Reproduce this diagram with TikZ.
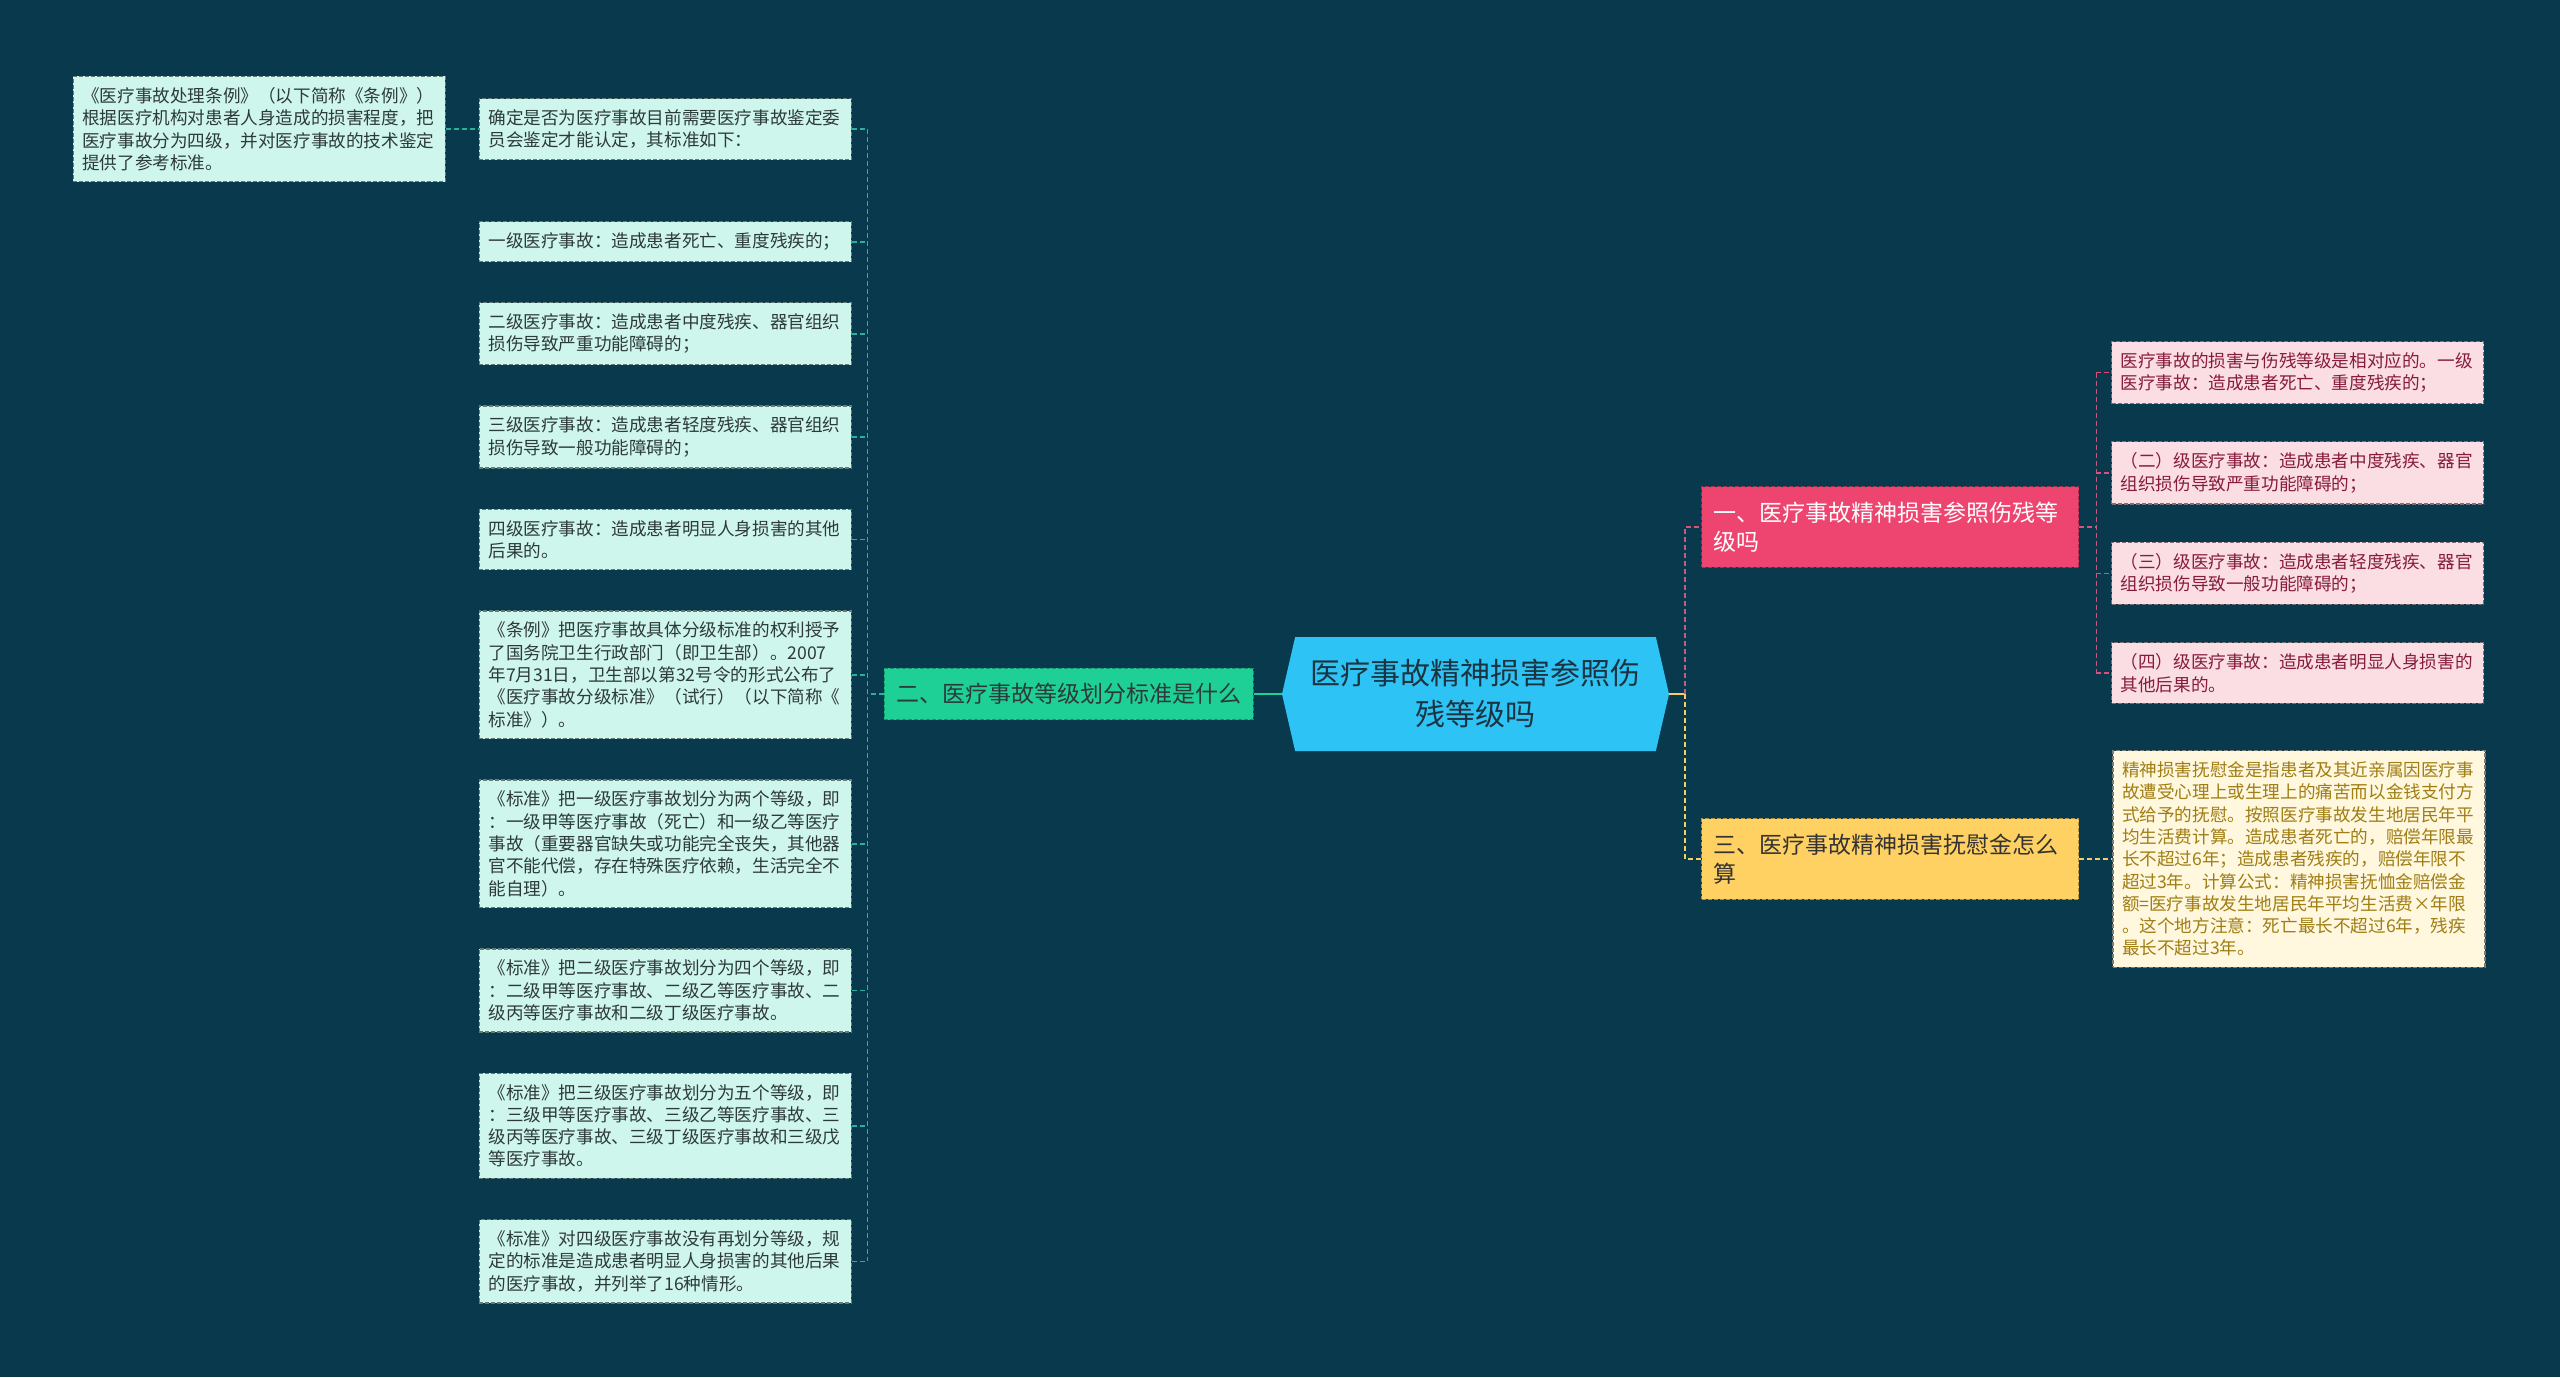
\documentclass[tikz,border=0pt]{standalone}
\usepackage{fontspec}
\setmainfont{Noto Sans CJK SC}
\usetikzlibrary{positioning,calc,shapes.symbols}
\definecolor{bgdeep}{RGB}{8,57,77}
\definecolor{hubcyan}{RGB}{45,196,245}
\definecolor{hubink}{RGB}{28,52,66}
\definecolor{mintbr}{RGB}{30,208,150}
\definecolor{mintleaf}{RGB}{207,246,236}
\definecolor{mintink}{RGB}{45,58,58}
\definecolor{mintline}{RGB}{40,178,156}
\definecolor{rosebr}{RGB}{238,68,112}
\definecolor{roseleaf}{RGB}{251,221,228}
\definecolor{roseink}{RGB}{135,28,58}
\definecolor{roseline}{RGB}{214,82,124}
\definecolor{sandbr}{RGB}{255,209,98}
\definecolor{sandleaf}{RGB}{255,247,222}
\definecolor{sandink}{RGB}{160,126,20}
\definecolor{sandline}{RGB}{246,206,104}

\begin{document}
\begin{tikzpicture}[x=1pt,y=-1pt,
          hub/.style={signal,signal to=west and east,signal pointer angle=154,fill=hubcyan,text=hubink,
                      minimum width=387pt,minimum height=114pt,align=center,font=\fontsize{30}{41}\selectfont},
          brn/.style={fill=#1br,draw=#1br!70!black,dash pattern=on 4pt off 2pt,line width=1.2pt,
                      inner xsep=12pt,inner ysep=15pt,align=left,font=\fontsize{23}{29.5}\selectfont},
          leaf/.style={fill=#1leaf,draw=#1leaf!50!black,text=#1ink,dash pattern=on 4pt off 2pt,line width=1.2pt,
                       text width=354pt,inner xsep=9pt,inner ysep=11pt,align=left,font=\fontsize{17.6}{22.3}\selectfont},
          ln/.style={draw=#1line,line width=1.6pt,dash pattern=on 5pt off 3pt},
          node distance=40pt
        ]
        \useasboundingbox (0,0) rectangle (2560,1377);
        \fill[bgdeep] (0,0) rectangle (2560,1377);
        \node[hub] (ctr) at (1475.5,694) {医疗事故精神损害参照伤\\残等级吗};
        \node[brn=mint,text=mintink,left=28pt of ctr] (two) {二、医疗事故等级划分标准是什么};
        \node[brn=rose,text=white,text width=353pt,anchor=west] (one) at ($(ctr.east)+(32,-167)$) {一、医疗事故精神损害参照伤残等\\级吗};
        \node[brn=sand,text=black!80,text width=353pt,anchor=west] (thr) at ($(ctr.east)+(32,165)$) {三、医疗事故精神损害抚慰金怎么\\算};
        \node[leaf=mint,anchor=north east] (l1) at (852,98) {确定是否为医疗事故目前需要医疗事故鉴定委\\员会鉴定才能认定，其标准如下：};
        \node[leaf=mint,left=33pt of l1] (l0) {《医疗事故处理条例》（以下简称《条例》）\\根据医疗机构对患者人身造成的损害程度，把\\医疗事故分为四级，并对医疗事故的技术鉴定\\提供了参考标准。};
        \node[leaf=mint,below=61pt of l1] (l2) {一级医疗事故：造成患者死亡、重度残疾的；};
        \node[leaf=mint,below=of l2] (l3) {二级医疗事故：造成患者中度残疾、器官组织\\损伤导致严重功能障碍的；};
        \node[leaf=mint,below=of l3] (l4) {三级医疗事故：造成患者轻度残疾、器官组织\\损伤导致一般功能障碍的；};
        \node[leaf=mint,below=of l4] (l5) {四级医疗事故：造成患者明显人身损害的其他\\后果的。};
        \node[leaf=mint,below=of l5] (l6) {《条例》把医疗事故具体分级标准的权利授予\\了国务院卫生行政部门（即卫生部）。2007\\年7月31日，卫生部以第32号令的形式公布了\\《医疗事故分级标准》（试行）（以下简称《\\标准》）。};
        \node[leaf=mint,below=of l6] (l7) {《标准》把一级医疗事故划分为两个等级，即\\：一级甲等医疗事故（死亡）和一级乙等医疗\\事故（重要器官缺失或功能完全丧失，其他器\\官不能代偿，存在特殊医疗依赖，生活完全不\\能自理）。};
        \node[leaf=mint,below=of l7] (l8) {《标准》把二级医疗事故划分为四个等级，即\\：二级甲等医疗事故、二级乙等医疗事故、二\\级丙等医疗事故和二级丁级医疗事故。};
        \node[leaf=mint,below=of l8] (l9) {《标准》把三级医疗事故划分为五个等级，即\\：三级甲等医疗事故、三级乙等医疗事故、三\\级丙等医疗事故、三级丁级医疗事故和三级戊\\等医疗事故。};
        \node[leaf=mint,below=of l9] (l10) {《标准》对四级医疗事故没有再划分等级，规\\定的标准是造成患者明显人身损害的其他后果\\的医疗事故，并列举了16种情形。};
        \node[leaf=rose,anchor=north west] (r1) at (2111,341) {医疗事故的损害与伤残等级是相对应的。一级\\医疗事故：造成患者死亡、重度残疾的；};
        \node[leaf=rose,below=37pt of r1] (r2) {（二）级医疗事故：造成患者中度残疾、器官\\组织损伤导致严重功能障碍的；};
        \node[leaf=rose,below=37pt of r2] (r3) {（三）级医疗事故：造成患者轻度残疾、器官\\组织损伤导致一般功能障碍的；};
        \node[leaf=rose,below=37pt of r3] (r4) {（四）级医疗事故：造成患者明显人身损害的\\其他后果的。};
        \node[leaf=sand,right=33pt of thr] (r5) {精神损害抚慰金是指患者及其近亲属因医疗事\\故遭受心理上或生理上的痛苦而以金钱支付方\\式给予的抚慰。按照医疗事故发生地居民年平\\均生活费计算。造成患者死亡的，赔偿年限最\\长不超过6年；造成患者残疾的，赔偿年限不\\超过3年。计算公式：精神损害抚恤金赔偿金\\额=医疗事故发生地居民年平均生活费×年限\\。这个地方注意：死亡最长不超过6年，残疾\\最长不超过3年。};
        \coordinate (lsp) at ($(two.west)+(-16,0)$);
        \coordinate (rsp) at ($(ctr.east)+(16,0)$);
        \coordinate (osp) at ($(one.east)+(17,0)$);
        \draw[mintbr,line width=2pt] (ctr.west) -- (two.east);
        \draw[ln=mint] (two.west) -- (lsp);
        \draw[ln=mint] (lsp |- l1.east) -- (lsp |- l10.east);
        \foreach \n in {1,...,10} \draw[ln=mint] (l\n.east) -- (lsp |- l\n.east);
        \draw[ln=mint] (l0.east) -- (l1.west);
        \draw[sandline,line width=2pt] (ctr.east) -- (rsp);
        \draw[ln=rose] (rsp) |- (one.west);
        \draw[ln=sand] (rsp) |- (thr.west);
        \draw[ln=rose] (one.east) -- (osp);
        \draw[ln=rose] (osp |- r1.west) -- (osp |- r4.west);
        \foreach \n in {1,...,4} \draw[ln=rose] (osp |- r\n.west) -- (r\n.west);
        \draw[ln=sand] (thr.east) -- (r5.west);
      \end{tikzpicture}
\end{document}
